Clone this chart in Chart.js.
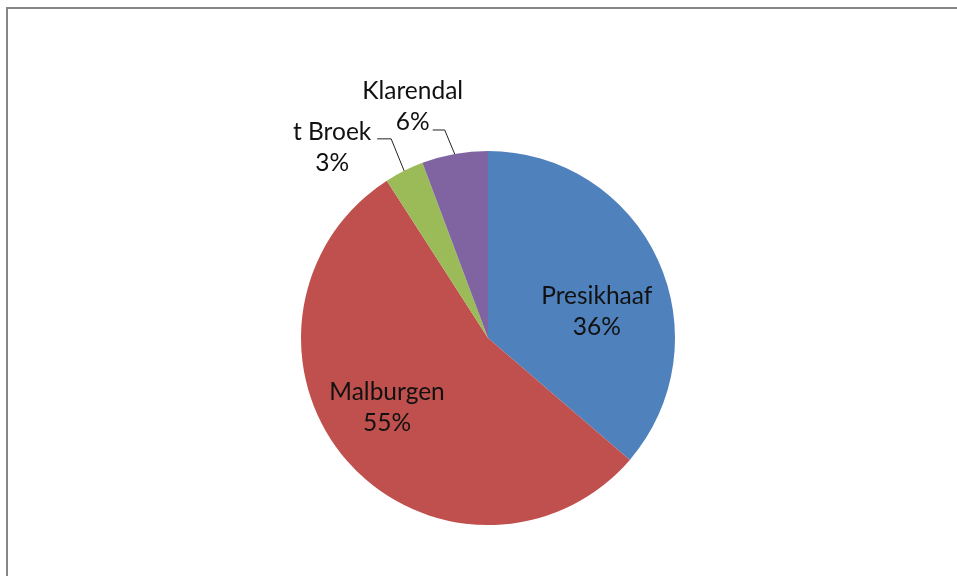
<!DOCTYPE html>
<html>
<head>
<meta charset="utf-8">
<script src="https://cdn.jsdelivr.net/npm/chart.js@4"></script>
<style>
  html, body { margin: 0; padding: 0; background: #fff; width: 957px; height: 576px; overflow: hidden; }
  #frame { position: absolute; left: 6px; top: 7px; width: 980px; height: 600px;
           border-left: 2px solid #868686; border-top: 2px solid #868686; }
  #wrap { position: absolute; left: 0; top: 0; width: 957px; height: 576px; }
</style>
</head>
<body>
<div id="frame"></div>
<div id="wrap"><canvas id="c" width="957" height="576"></canvas></div>
<script>
// ---- data ----
const categories = ["Presikhaaf", "Malburgen", "t Broek", "Klarendal"];
const values = [36.3, 54.6, 3.4, 5.7];
const colors = ["#4F81BD", "#C0504D", "#9BBB59", "#8064A2"];

// ---- label layout styles (offsets relative to the arc geometry) ----
const labelStyle = [
  { mode: "inside", k: 0.587, dx: 9, dy: 19 },
  { mode: "inside", k: 0.652, dx: -9, dy: -10 },
  { mode: "outside", tx: -72, ty: -23, ex: -13, ey: -32, hx: -14 },
  { mode: "outside", tx: -42, ty: -47, ex: -10, ey: -24, hx: -12 }
];
const FONT = '24.5px Lato, "Open Sans", sans-serif';
const LINE_H = 31;

const labelPlugin = {
  id: "pieLabels",
  afterDatasetsDraw(chart) {
    const ctx = chart.ctx;
    const meta = chart.getDatasetMeta(0);
    const data = chart.data.datasets[0].data;
    const total = data.reduce((a, b) => a + b, 0);
    ctx.save();
    ctx.font = FONT;
    ctx.fillStyle = "#111";
    ctx.textAlign = "center";
    ctx.textBaseline = "middle";
    meta.data.forEach((arc, i) => {
      const p = arc.getProps(["x", "y", "startAngle", "endAngle", "outerRadius"], true);
      const mid = (p.startAngle + p.endAngle) / 2;
      const cx = Math.cos(mid), cy = Math.sin(mid);
      const st = labelStyle[i];
      const pct = Math.round(data[i] / total * 100) + "%";
      let bx, by;
      if (st.mode === "inside") {
        bx = p.x + cx * p.outerRadius * st.k + st.dx;
        by = p.y + cy * p.outerRadius * st.k + st.dy;
      } else {
        const exEdge = p.x + cx * p.outerRadius;
        const eyEdge = p.y + cy * p.outerRadius;
        bx = exEdge + st.tx;
        by = eyEdge + st.ty;
        const elx = exEdge + st.ex, ely = eyEdge + st.ey;
        ctx.beginPath();
        ctx.strokeStyle = "#222";
        ctx.lineWidth = 1;
        ctx.moveTo(exEdge, eyEdge);
        ctx.lineTo(elx, ely);
        ctx.lineTo(elx + st.hx, ely);
        ctx.stroke();
      }
      ctx.fillText(chart.data.labels[i], bx, by - LINE_H / 2);
      ctx.fillText(pct, bx, by + LINE_H / 2);
    });
    ctx.restore();
  }
};

new Chart(document.getElementById("c"), {
  type: "pie",
  data: {
    labels: categories,
    datasets: [{
      data: values,
      backgroundColor: colors,
      borderWidth: 0,
      hoverOffset: 0
    }]
  },
  options: {
    responsive: false,
    animation: false,
    events: [],
    layout: { padding: { left: 301, right: 282, top: 151, bottom: 51 } },
    plugins: { legend: { display: false }, tooltip: { enabled: false } }
  },
  plugins: [labelPlugin]
});
</script>
</body>
</html>
